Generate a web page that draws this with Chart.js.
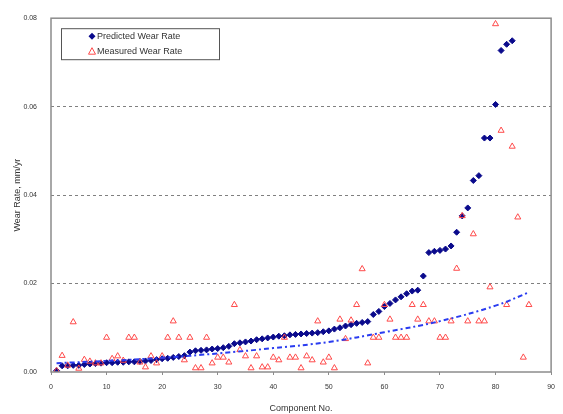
<!DOCTYPE html>
<html>
<head>
<meta charset="utf-8">
<script src="https://cdn.jsdelivr.net/npm/chart.js@4/dist/chart.umd.min.js"></script>
<style>
  html, body { margin: 0; padding: 0; background: #fff; }
  #wrap { width: 563px; height: 414px; }
</style>
</head>
<body>
<div id="wrap"><canvas id="wearChart" width="563" height="414"></canvas></div>
<script>
// predicted wear rate, components 1..83 (sorted ascending)
const predicted = [
  0.0003, 0.0014, 0.0014, 0.0015, 0.0015, 0.0017, 0.0018, 0.0019, 0.0020, 0.0021,
  0.0021, 0.0022, 0.0022, 0.0023, 0.0023, 0.0024, 0.0025, 0.0026, 0.0028, 0.0030,
  0.0031, 0.0033, 0.0035, 0.0037, 0.0045, 0.0048, 0.0049, 0.0050, 0.0052, 0.0053,
  0.0055, 0.0058, 0.0064, 0.0066, 0.0068, 0.0070, 0.0073, 0.0075, 0.0077, 0.0079,
  0.0081, 0.0082, 0.0084, 0.0085, 0.0086, 0.0087, 0.0088, 0.0089, 0.0091, 0.0093,
  0.0097, 0.0100, 0.0104, 0.0107, 0.0110, 0.0112, 0.0114, 0.0130, 0.0137, 0.0148,
  0.0155, 0.0163, 0.0170, 0.0177, 0.0183, 0.0185, 0.0217, 0.0270, 0.0273, 0.0275,
  0.0278, 0.0285, 0.0316, 0.0353, 0.0371, 0.0433, 0.0444, 0.0529, 0.0529, 0.0605,
  0.0727, 0.0741, 0.0749
];

// measured wear rate, components 1..86
const measured = [
  0.0003, 0.0037, 0.0015, 0.0113, 0.0008, 0.0028, 0.0024, 0.0020, 0.0020, 0.0078,
  0.0030, 0.0036, 0.0026, 0.0078, 0.0078, 0.0022, 0.0011, 0.0036, 0.0020, 0.0036,
  0.0078, 0.0115, 0.0078, 0.0027, 0.0078, 0.0009, 0.0009, 0.0078, 0.0020, 0.0033,
  0.0033, 0.0022, 0.0152, 0.0050, 0.0036, 0.0009, 0.0036, 0.0011, 0.0011, 0.0033,
  0.0027, 0.0078, 0.0033, 0.0033, 0.0009, 0.0036, 0.0027, 0.0115, 0.0022, 0.0033,
  0.0009, 0.0119, 0.0075, 0.0117, 0.0152, 0.0233, 0.0020, 0.0078, 0.0078, 0.0152,
  0.0119, 0.0078, 0.0078, 0.0078, 0.0152, 0.0119, 0.0152, 0.0115, 0.0115, 0.0078,
  0.0078, 0.0115, 0.0234, 0.0353, 0.0115, 0.0312, 0.0115, 0.0115, 0.0192, 0.0787,
  0.0546, 0.0152, 0.0510, 0.0350, 0.0033, 0.0152
];

// exponential trend of the predicted curve
const trendX = [1, 10, 20, 30, 40, 50, 60, 70, 80, 86];
const trendY = [0.0020, 0.0025, 0.0032, 0.0042, 0.0054, 0.0068, 0.0090, 0.0115, 0.0150, 0.0180];

const toPoints = (ys, xs) => ys.map((y, i) => ({ x: xs ? xs[i] : i + 1, y: y }));

const FONT = 'Liberation Sans, Arial, sans-serif';

// grey frame around the plot area
const frame = {
  id: 'frame',
  afterDraw(chart) {
    const { ctx, chartArea: a } = chart;
    ctx.save();
    ctx.strokeStyle = '#8c8c8c';
    ctx.lineWidth = 1.5;
    ctx.strokeRect(a.left, a.top, a.right - a.left, a.bottom - a.top);
    ctx.restore();
  }
};

// boxed legend in the top-left corner of the plot
const boxLegend = {
  id: 'boxLegend',
  afterDraw(chart) {
    const { ctx, chartArea: a } = chart;
    const x0 = a.left + 10, y0 = a.top + 10, w = 158, h = 31;
    ctx.save();
    ctx.fillStyle = '#fff';
    ctx.fillRect(x0, y0, w, h);
    ctx.strokeStyle = '#555';
    ctx.lineWidth = 1;
    ctx.strokeRect(x0 + 0.5, y0 + 0.5, w, h);
    ctx.font = '9px ' + FONT;
    ctx.textBaseline = 'middle';
    const items = [
      { text: 'Predicted Wear Rate', style: 'rectRot', color: '#0a0a8c' },
      { text: 'Measured Wear Rate', style: 'triangle', color: '#ff4a4a' }
    ];
    items.forEach((it, i) => {
      const cy = y0 + 8 + i * 15;
      const mx = x0 + 31;
      ctx.fillStyle = it.color;
      ctx.strokeStyle = it.color;
      ctx.beginPath();
      if (it.style === 'rectRot') {
        ctx.moveTo(mx, cy - 3.5); ctx.lineTo(mx + 3.5, cy);
        ctx.lineTo(mx, cy + 3.5); ctx.lineTo(mx - 3.5, cy);
        ctx.closePath(); ctx.fill();
      } else {
        ctx.moveTo(mx, cy - 3.5); ctx.lineTo(mx + 3.5, cy + 3);
        ctx.lineTo(mx - 3.5, cy + 3); ctx.closePath(); ctx.stroke();
      }
      ctx.fillStyle = '#333';
      ctx.fillText(it.text, x0 + 36, cy);
    });
    ctx.restore();
  }
};

new Chart(document.getElementById('wearChart'), {
  type: 'scatter',
  data: {
    datasets: [
      {
        label: 'Predicted Wear Rate',
        data: toPoints(predicted),
        pointStyle: 'rectRot',
        pointRadius: 3,
        backgroundColor: '#0a0a8c',
        borderColor: '#0a0a8c',
        borderWidth: 1,
        order: 2
      },
      {
        label: 'Measured Wear Rate',
        data: toPoints(measured),
        pointStyle: 'triangle',
        pointRadius: 3.5,
        backgroundColor: 'rgba(0,0,0,0)',
        borderColor: '#ff4a4a',
        borderWidth: 1,
        order: 1
      },
      {
        label: 'Trend',
        type: 'line',
        data: toPoints(trendY, trendX),
        showLine: true,
        pointRadius: 0,
        borderColor: '#2a3cf0',
        borderWidth: 2,
        borderDash: [5, 3, 2, 3],
        tension: 0.4,
        fill: false,
        order: 0
      }
    ]
  },
  options: {
    responsive: false,
    animation: false,
    layout: { padding: { top: 10, right: 9, left: 0, bottom: 0 } },
    plugins: {
      legend: { display: false },
      tooltip: { enabled: false }
    },
    scales: {
      x: {
        type: 'linear',
        min: 0,
        max: 90,
        afterFit: (s) => { s.height = 42; },
        ticks: {
          stepSize: 10,
          padding: 8,
          color: '#333',
          font: { family: FONT, size: 7 }
        },
        grid: { drawOnChartArea: false, tickLength: 3, color: '#8c8c8c' },
        border: { display: false },
        title: {
          display: true,
          text: 'Component No.',
          color: '#333',
          font: { family: FONT, size: 9 },
          padding: { top: 6, bottom: 0 }
        }
      },
      y: {
        min: 0,
        max: 0.08,
        afterFit: (s) => { s.width = 51; },
        ticks: {
          stepSize: 0.02,
          padding: 14,
          color: '#333',
          font: { family: FONT, size: 7 },
          callback: (v) => v.toFixed(2)
        },
        grid: {
          drawTicks: false,
          color: (c) => (c.tick.value > 0 && c.tick.value < 0.08) ? '#808080' : 'rgba(0,0,0,0)',
          lineWidth: 1
        },
        border: { display: false, dash: [3, 3] },
        title: {
          display: true,
          text: 'Wear Rate, mm/yr',
          color: '#333',
          font: { family: FONT, size: 9 },
          padding: { top: 12, bottom: 0 }
        }
      }
    }
  },
  plugins: [frame, boxLegend]
});
</script>
</body>
</html>
